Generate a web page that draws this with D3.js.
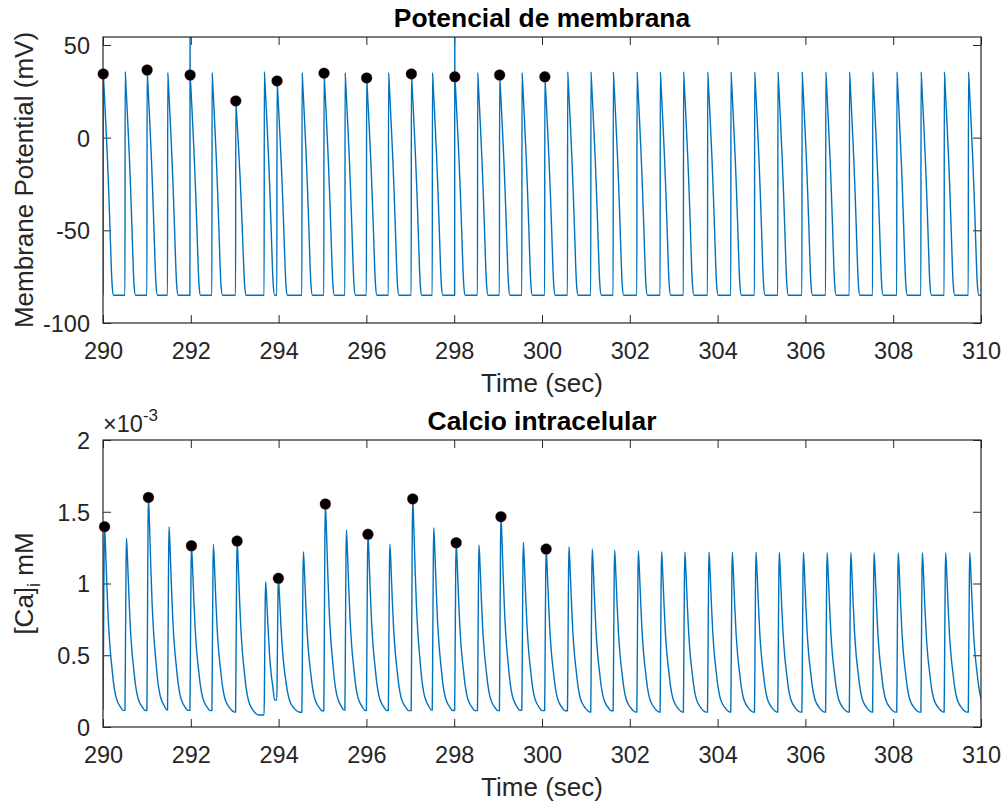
<!DOCTYPE html>
<html>
<head>
<meta charset="utf-8">
<script src="https://cdn.jsdelivr.net/npm/d3@7"></script>
<style>
  body { margin: 0; background: #fff; }
  svg { display: block; font-family: "Liberation Sans", Arial, Helvetica, sans-serif; }
</style>
</head>
<body>
<svg id="chart" width="1007" height="803"></svg>
<script>
// --- Data ---
// upstroke time of every beat (sec)
const beatTimes = [290.00, 290.50, 291.00, 291.47, 291.98, 292.48, 293.02, 293.67, 293.96, 294.53,
                   295.03, 295.51, 296.00, 296.50, 297.02, 297.50, 298.01, 298.53, 299.03, 299.54,
                   300.06, 300.58, 301.11, 301.62, 302.16, 302.69, 303.22, 303.77, 304.30, 304.84,
                   305.37, 305.92, 306.46, 307.00, 307.53, 308.08, 308.63, 309.16, 309.71];
// peak membrane potential of each beat (mV)
const vmPeaks = [34.4, 35.6, 36.5, 35.0, 33.8, 35.0, 19.8, 35.6, 30.6, 35.0,
                 34.8, 35.0, 32.2, 35.0, 34.4, 35.0, 32.8, 35.0, 33.8, 35.0,
                 32.8, 35.5, 35.5, 35.5, 35.5, 35.5, 35.5, 35.5, 35.5, 35.5,
                 35.5, 35.5, 35.5, 35.5, 35.5, 35.5, 35.5, 35.5, 35.5];
// peak intracellular calcium of each beat (x 10^-3 mM)
const caPeaks = [1.396, 1.315, 1.600, 1.396, 1.263, 1.273, 1.296, 1.013, 1.036, 1.222,
                 1.554, 1.373, 1.343, 1.275, 1.589, 1.389, 1.284, 1.268, 1.466, 1.287,
                 1.240, 1.256, 1.240, 1.232, 1.226, 1.222, 1.220, 1.220, 1.218, 1.218,
                 1.216, 1.216, 1.215, 1.215, 1.215, 1.214, 1.214, 1.214, 1.214];
// level the calcium decays towards after each beat (x 10^-3 mM)
const caFloors = [0.10, 0.10, 0.10, 0.10, 0.10, 0.10, 0.08, 0.03, 0.10, 0.10,
                  0.10, 0.10, 0.10, 0.10, 0.10, 0.10, 0.10, 0.10, 0.10, 0.10,
                  0.10, 0.10, 0.10, 0.10, 0.10, 0.10, 0.10, 0.10, 0.10, 0.10,
                  0.10, 0.10, 0.10, 0.10, 0.10, 0.10, 0.10, 0.10, 0.10];
const caStart = 0.12;
const vmRest = -85;
// beats whose upstroke overshoots to the top of the axes
const spikeBeats = [291.98, 298.01];
const spikeTop = 56;
// beats marked with a black dot
const markedBeats = [290.00, 291.00, 291.98, 293.02, 293.96, 295.03, 296.00, 297.02, 298.01, 299.03, 300.06];

// action potential shape: [sec after upstroke, fraction of rest->peak]
const apShape = [[0, 0], [0.005, 1], [0.02, 0.95], [0.06, 0.79], [0.10, 0.62], [0.13, 0.47],
                 [0.16, 0.3], [0.19, 0.12], [0.21, 0.04], [0.24, 0]];
// calcium transient shape: [sec after upstroke, fraction of floor->peak]
const caShape = [[0, 0], [0.01, 0.3], [0.025, 0.85], [0.035, 1], [0.06, 0.87], [0.09, 0.67],
                 [0.12, 0.5], [0.16, 0.35], [0.2, 0.25], [0.24, 0.16], [0.29, 0.09], [0.34, 0.055],
                 [0.4, 0.03], [0.46, 0.012], [0.52, 0.003], [0.7, 0]];
const caPeakDt = 0.035;

const xTicks = [290, 292, 294, 296, 298, 300, 302, 304, 306, 308, 310];
const vmTicks = [-100, -50, 0, 50];
const caTicks = [0, 0.5, 1, 1.5, 2];

// --- Build the traces ---
const vmSeries = [];
beatTimes.forEach((t0, i) => {
    const gap = i < beatTimes.length - 1 ? beatTimes[i + 1] - t0 : Infinity;
    const P = vmPeaks[i];
    apShape.forEach(([dt, h], k) => {
        if (dt >= gap) return;
        if (k === 1 && spikeBeats.includes(t0)) vmSeries.push([t0 + 0.003, spikeTop]);
        vmSeries.push([t0 + dt, vmRest + (P - vmRest) * h]);
    });
});
vmSeries.push([xTicks[xTicks.length - 1], vmRest]);

const caSeries = [];
let caLast = caStart;
beatTimes.forEach((t0, i) => {
    const gap = i < beatTimes.length - 1 ? beatTimes[i + 1] - t0 : Infinity;
    const P = caPeaks[i], floor = caFloors[i], s = caLast;
    caShape.forEach(([dt, f]) => {
        if (dt >= gap) return;
        const v = dt <= caPeakDt ? s + (P - s) * f : floor + (P - floor) * f;
        caSeries.push([t0 + dt, v]);
    });
    caLast = caSeries[caSeries.length - 1][1];
});

const vmDots = markedBeats.map(t => {
    const i = beatTimes.indexOf(t);
    return [t + apShape[1][0], vmPeaks[i]];
});
const caDots = markedBeats.map(t => {
    const i = beatTimes.indexOf(t);
    return [t + caPeakDt, caPeaks[i]];
});

// --- Drawing ---
const svg = d3.select("#chart");
const axisColor = "#262626";
const lineColor = "#0072BD";

function panel(opts) {
    const { top, bottom, left, right, yDomain, yTicks, series, dots, title, ylabel, id } = opts;
    const x = d3.scaleLinear().domain([290, 310]).range([left, right]);
    const y = d3.scaleLinear().domain(yDomain).range([bottom, top]);
    const g = svg.append("g");

    g.append("clipPath").attr("id", id)
        .append("rect").attr("x", left).attr("y", top)
        .attr("width", right - left).attr("height", bottom - top);

    // ticks on all four sides, pointing inward
    const tickLen = 8;
    const plain = d => String(d);
    const xb = g.append("g").attr("transform", `translate(0,${bottom})`)
        .call(d3.axisBottom(x).tickValues(xTicks).tickSizeInner(-tickLen).tickSizeOuter(0).tickFormat(plain));
    const xt = g.append("g").attr("transform", `translate(0,${top})`)
        .call(d3.axisTop(x).tickValues(xTicks).tickSizeInner(-tickLen).tickSizeOuter(0).tickFormat(""));
    const yl = g.append("g").attr("transform", `translate(${left},0)`)
        .call(d3.axisLeft(y).tickValues(yTicks).tickSizeInner(-tickLen).tickSizeOuter(0).tickFormat(plain));
    const yr = g.append("g").attr("transform", `translate(${right},0)`)
        .call(d3.axisRight(y).tickValues(yTicks).tickSizeInner(-tickLen).tickSizeOuter(0).tickFormat(""));

    [xb, xt, yl, yr].forEach(a => {
        a.select(".domain").remove();
        a.selectAll(".tick line").attr("stroke", axisColor).attr("stroke-width", 1);
        a.selectAll(".tick text").attr("fill", axisColor)
            .style("font-size", "23.5px").style("font-family", "'Liberation Sans', Arial, sans-serif");
    });
    xb.selectAll(".tick text").attr("y", 35.5).attr("dy", null);
    yl.selectAll(".tick text").attr("x", -13).attr("dy", "0.36em");

    // trace
    g.append("path")
        .datum(series)
        .attr("clip-path", `url(#${id})`)
        .attr("fill", "none")
        .attr("stroke", lineColor)
        .attr("stroke-width", 1.4)
        .attr("stroke-linejoin", "round")
        .attr("d", d3.line().x(d => x(d[0])).y(d => y(d[1])).curve(d3.curveMonotoneX));

    // box
    g.append("rect")
        .attr("x", left).attr("y", top)
        .attr("width", right - left).attr("height", bottom - top)
        .attr("fill", "none").attr("stroke", axisColor).attr("stroke-width", 1.2);

    // markers
    g.selectAll("circle.dot").data(dots).join("circle")
        .attr("class", "dot")
        .attr("cx", d => x(d[0])).attr("cy", d => y(d[1]))
        .attr("r", 5.5)
        .attr("fill", "#000")
        .attr("stroke", "rgba(220,60,60,0.35)").attr("stroke-width", 0.8);

    // title and labels
    g.append("text").attr("x", (left + right) / 2).attr("y", top - 10)
        .attr("text-anchor", "middle").attr("fill", "#000")
        .style("font-size", "26.4px").style("font-weight", "bold")
        .text(title);
    g.append("text").attr("x", (left + right) / 2).attr("y", bottom + 69)
        .attr("text-anchor", "middle").attr("fill", axisColor)
        .style("font-size", "26px")
        .text("Time (sec)");
    const yt = g.append("text")
        .attr("transform", `translate(33,${(top + bottom) / 2}) rotate(-90)`)
        .attr("text-anchor", "middle").attr("fill", axisColor)
        .style("font-size", "26px");
    ylabel(yt);
    return { x, y, g };
}

panel({
    id: "clipVm", top: 37, bottom: 323, left: 103, right: 981,
    yDomain: [-100, 54.3], yTicks: vmTicks,
    series: vmSeries, dots: vmDots, title: "Potencial de membrana",
    ylabel: t => t.text("Membrane Potential (mV)")
});

const ca = panel({
    id: "clipCa", top: 440, bottom: 727, left: 103, right: 981,
    yDomain: [0, 2], yTicks: caTicks,
    series: caSeries, dots: caDots, title: "Calcio intracelular",
    ylabel: t => {
        t.append("tspan").text("[Ca]");
        t.append("tspan").attr("dy", 7).style("font-size", "18px").text("i");
        t.append("tspan").attr("dy", -7).text(" mM");
    }
});

// exponent label of the calcium axis
const expo = ca.g.append("text").attr("x", 103).attr("y", 432)
    .attr("fill", axisColor).style("font-size", "23.5px");
expo.append("tspan").text("\u00d710");
expo.append("tspan").attr("dy", -11).style("font-size", "17px").text("-3");
</script>
</body>
</html>
